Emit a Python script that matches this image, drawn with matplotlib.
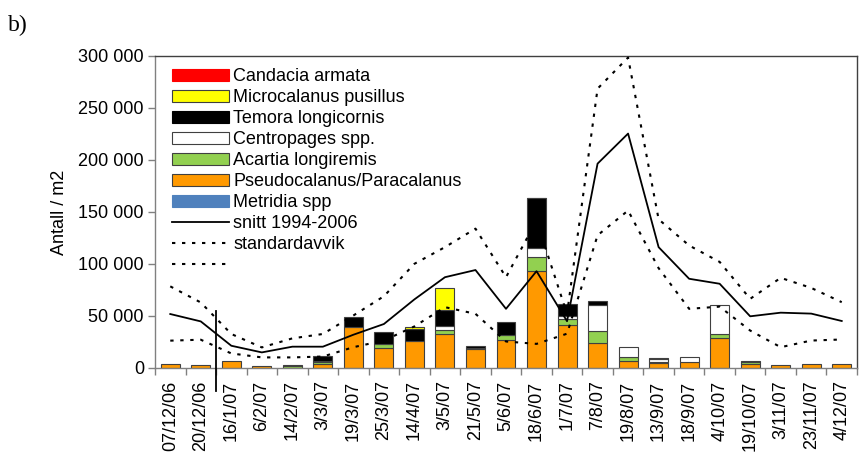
import matplotlib
matplotlib.use('Agg')
import matplotlib.pyplot as plt
import numpy as np
from matplotlib.patches import Patch
from matplotlib.lines import Line2D
from matplotlib.ticker import FuncFormatter

plt.rcParams['font.family'] = ['Liberation Sans', 'DejaVu Sans']

dates = ['07/12/06', '20/12/06', '16/1/07', '6/2/07', '14/2/07', '3/3/07', '19/3/07',
         '25/3/07', '14/4/07', '3/5/07', '21/5/07', '5/6/07', '18/6/07', '1/7/07',
         '7/8/07', '19/8/07', '13/9/07', '18/9/07', '4/10/07', '19/10/07', '3/11/07',
         '23/11/07', '4/12/07']

metridia = [0, 0, 0, 0, 0, 0, 0, 0, 0, 0, 0, 0, 0, 0, 0, 0, 0, 0, 0, 0, 0, 0, 0]
pseudo = [3800, 2600, 6700, 2400, 0, 4000, 39200, 19000, 25800, 32900, 17800, 27400,
          93100, 40900, 24200, 6800, 5000, 5800, 28900, 4000, 3000, 4000, 4000]
acartia = [0, 0, 0, 0, 1500, 1500, 0, 3600, 0, 3800, 1200, 4800,
           13500, 6400, 11200, 4000, 800, 0, 4200, 1500, 0, 0, 0]
centropages = [0, 0, 0, 0, 0, 1200, 0, 0, 0, 3800, 0, 0,
               9000, 2500, 25400, 9600, 2800, 4800, 27900, 0, 0, 0, 0]
temora = [0, 0, 0, 0, 1500, 5000, 10300, 11800, 11600, 15700, 2000, 11800,
          47500, 11900, 3500, 0, 1200, 0, 0, 1500, 0, 0, 0]
microcalanus = [0, 0, 0, 0, 0, 0, 0, 0, 2000, 20500, 0, 0,
                600, 0, 0, 0, 0, 0, 0, 0, 0, 0, 0]
candacia = [0, 0, 0, 0, 0, 0, 0, 0, 0, 0, 0, 0, 0, 0, 0, 0, 0, 0, 0, 0, 0, 0, 0]

snitt = [51900, 44800, 21400, 15000, 20500, 20500, 32000, 42300, 66000, 87300, 94200, 56900,
         93100, 45000, 196500, 225400, 116200, 85800, 81000, 49700, 53200, 52300, 45200]
std_upper = [78500, 63000, 32700, 19800, 28500, 32700, 50500, 69000, 100200, 116200, 134000, 87300,
             141800, 52000, 268600, 298500, 143000, 117800, 102000, 66500, 86700, 77000, 63300]
std_lower = [26300, 27200, 14000, 10200, 10200, 11000, 20000, 26400, 40000, 58500, 52100, 25500,
             23200, 33000, 127600, 151400, 96000, 56900, 59000, 36000, 20000, 26400, 27400]

fig = plt.figure(figsize=(8.61, 4.54), dpi=100)
ax = fig.add_axes([155 / 861, 1 - 368 / 454, 702 / 861, 312 / 454])

x = np.arange(len(dates))
w = 0.62
edge = '#404040'
series = [
    (metridia, '#4F81BD', 'Metridia spp'),
    (pseudo, '#FF9900', 'Pseudocalanus/Paracalanus'),
    (acartia, '#92D050', 'Acartia longiremis'),
    (centropages, '#FFFFFF', 'Centropages spp.'),
    (temora, '#000000', 'Temora longicornis'),
    (microcalanus, '#FFFF00', 'Microcalanus pusillus'),
    (candacia, '#FF0000', 'Candacia armata'),
]
bottom = np.zeros(len(dates))
handles_map = {}
for vals, color, label in series:
    v = np.array(vals, dtype=float)
    m = v > 0
    if m.any():
        ax.bar(x[m], v[m], w, bottom=bottom[m], color=color, edgecolor=edge,
               linewidth=0.8, zorder=2)
    bottom += v
    handles_map[label] = Patch(facecolor=color,
                               edgecolor=(edge if color in ('#FFFF00', '#FFFFFF', '#92D050', '#FF9900') else color),
                               linewidth=0.8)

dot = (0, (1.6, 3.2))
ax.plot(x, snitt, color='black', lw=1.3, zorder=3)
ax.plot(x, std_upper, color='black', lw=1.5, linestyle=dot, dash_capstyle='butt', zorder=3)
ax.plot(x, std_lower, color='black', lw=1.5, linestyle=dot, dash_capstyle='butt', zorder=3)

ax.set_xlim(-0.5, len(dates) - 0.5)
ax.set_ylim(0, 300000)
ax.set_yticks(np.arange(0, 300001, 50000))
ax.yaxis.set_major_formatter(FuncFormatter(lambda v, p: f"{int(v):,}".replace(',', ' ')))
ax.tick_params(axis='y', direction='out', length=5, width=1, color='#808080',
               labelsize=13, pad=3)
ax.set_xticks(x)
ax.set_xticklabels(dates, rotation=90, fontsize=13)
ax.tick_params(axis='x', which='major', length=0, pad=9)
ax.set_xticks(np.arange(-0.5, len(dates), 1), minor=True)
ax.tick_params(axis='x', which='minor', direction='out', length=5, width=1, color='#808080')
for s in ('left', 'bottom'):
    ax.spines[s].set_color('#808080')
    ax.spines[s].set_linewidth(1)
for s in ('top', 'right'):
    ax.spines[s].set_color('#404040')
    ax.spines[s].set_linewidth(1)

ax.set_ylabel('Antall / m2', fontsize=13, labelpad=7.5)

# separator between 2006 and 2007
ax.plot([1.5, 1.5], [54800, -22000], color='black', lw=1.3, clip_on=False, zorder=4)

labels = ['Candacia armata', 'Microcalanus pusillus', 'Temora longicornis', 'Centropages spp.',
          'Acartia longiremis', 'Pseudocalanus/Paracalanus', 'Metridia spp']
handles = [handles_map[l] for l in labels]
handles += [Line2D([], [], color='black', lw=1.3),
            Line2D([], [], color='black', lw=1.5, linestyle=dot, dash_capstyle='butt'),
            Line2D([], [], color='black', lw=1.5, linestyle=dot, dash_capstyle='butt')]
labels += ['snitt 1994-2006', 'standardavvik', '']
ax.legend(handles, labels, loc='upper left', bbox_to_anchor=(0.024, 0.96), frameon=False,
          fontsize=13, handlelength=3.15, handleheight=0.6, handletextpad=0.25,
          labelspacing=0.22, borderpad=0, borderaxespad=0)

fig.text(8 / 861, 1 - 31 / 454, 'b)', family=['Liberation Serif', 'DejaVu Serif'],
         fontsize=17, va='baseline', ha='left')

fig.savefig('out.png', dpi=100)
